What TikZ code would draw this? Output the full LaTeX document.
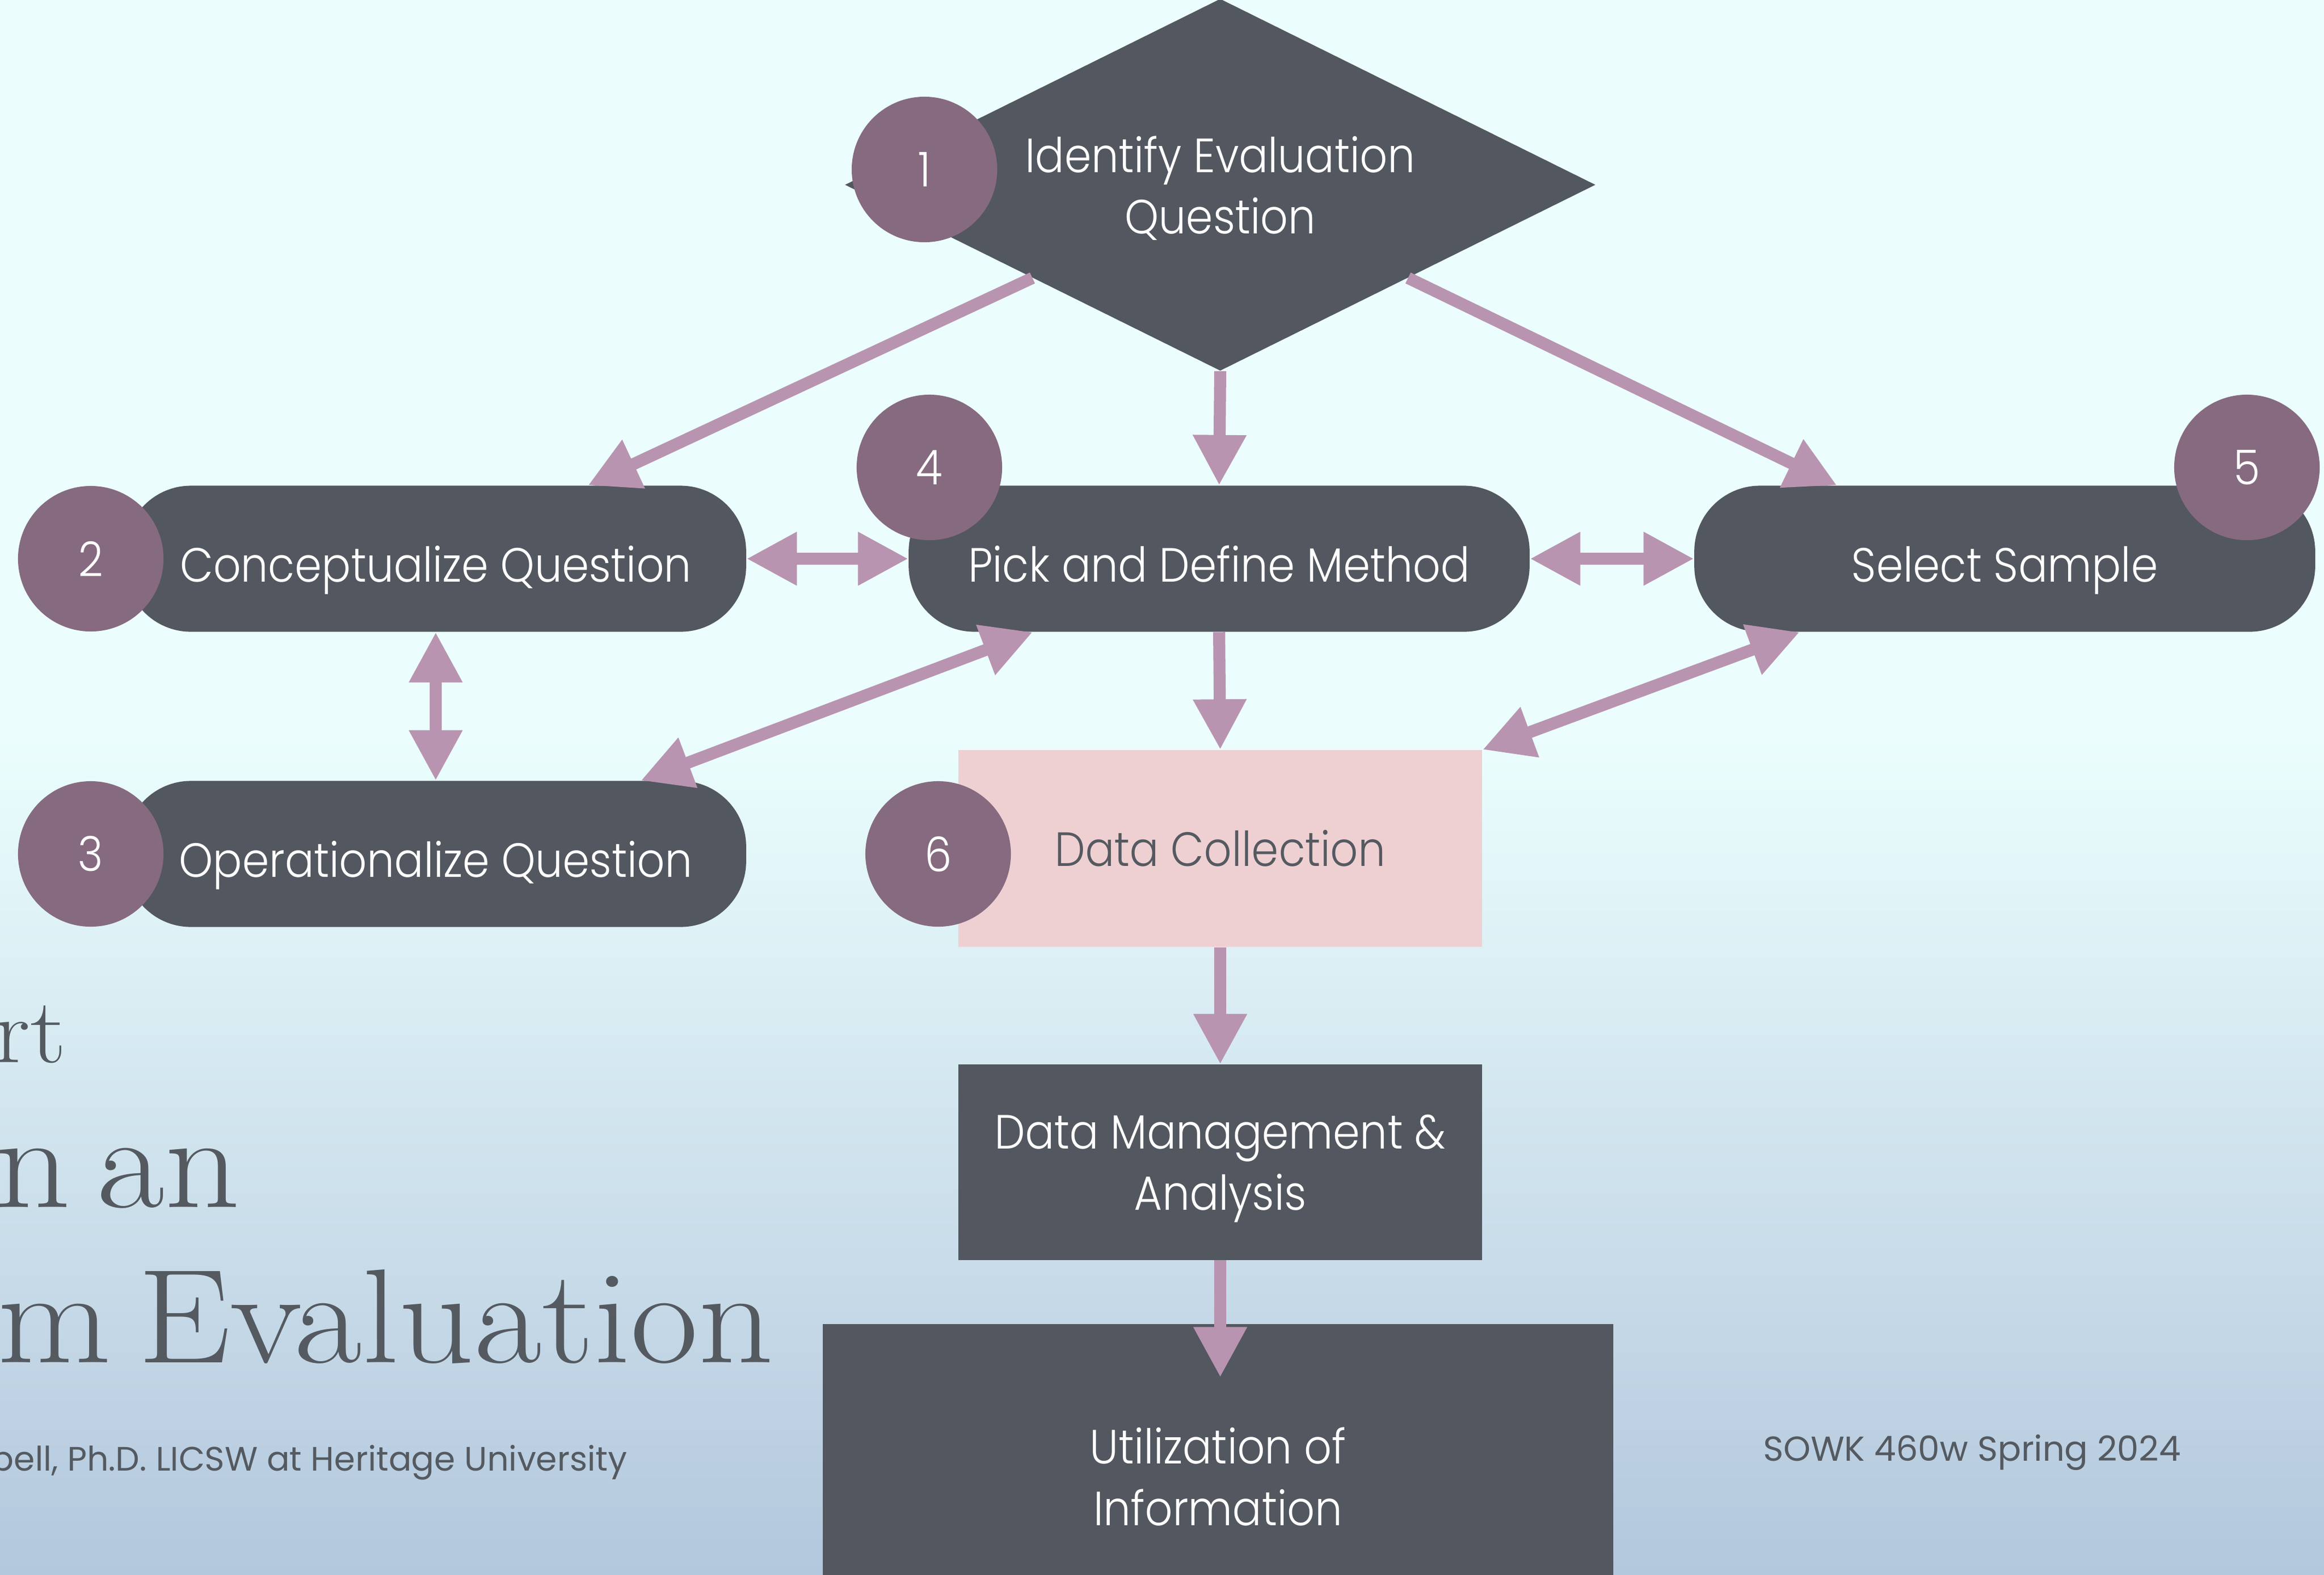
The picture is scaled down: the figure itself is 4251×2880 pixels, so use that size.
\documentclass[tikz,border=0pt]{standalone}
\usepackage{fontspec}
\newfontfamily\lightfont{Poppins Light}[FakeStretch=0.9]
\newfontfamily\plainfont{Poppins}
\newfontfamily\titlefont{Latin Modern Roman}[FakeStretch=1.1, WordSpace=0.6]
\usetikzlibrary{shapes.geometric, arrows.meta, calc}

\definecolor{bgtop}{HTML}{EBFEFD}
\definecolor{bgmid}{HTML}{D2E6F1}
\definecolor{bglow}{HTML}{B3C7DD}
\definecolor{slate}{HTML}{53575F}
\definecolor{plum}{HTML}{866A80}
\definecolor{mauve}{HTML}{B994B1}
\definecolor{blush}{HTML}{EFD0D2}
\definecolor{ink}{HTML}{545A60}

\tikzset{
    boxtext/.style={font=\lightfont\fontsize{25}{31.9}\selectfont},
    pill/.style={rectangle, rounded corners=1.2cm, fill=slate, text=white, minimum width=11.35cm, minimum height=2.67cm, text height=0.9cm, text depth=0.06cm, boxtext},
    block/.style={rectangle, fill=slate, text=white, minimum width=9.58cm, align=center, boxtext},
    badge/.style={circle, fill=plum, text=white, minimum size=2.66cm, inner sep=0pt, boxtext},
    link/.style={mauve, line width=0.22cm, -{Triangle[width=0.92cm, length=0.92cm]}},
    twolink/.style={link, {Triangle[width=0.92cm, length=0.92cm]}-{Triangle[width=0.92cm, length=0.92cm]}},
    title/.style={anchor=base east, inner sep=0pt, text=ink, font=\titlefont\fontsize{69.7}{72}\selectfont}
}

\begin{document}
\begin{tikzpicture}[x=0.01cm, y=-0.01cm]

            % the frame
            \useasboundingbox (0,0) rectangle (4251,2880);
            \path[clip] (0,0) rectangle (4251,2880);
            \fill[bgtop] (0,0) rectangle (4251,2880);
            \shade[top color=bgtop, middle color=bgmid, bottom color=bglow] (0,1350) rectangle (4251,2880);

            % the body
            \node[diamond, aspect=2, inner sep=0pt, fill=slate, text=white, align=center, minimum width=13.72cm, minimum height=6.8cm, text depth=0cm, boxtext] (q1) at (2232,338) {Identify Evaluation\\Question};
            \node[pill] (b2) at (797,1022) {Conceptualize Question};
            \node[pill] (b3) at (797,1562) {Operationalize Question};
            \node[pill] (b4) at (2230,1022) {Pick and Define Method};
            \node[pill] (b5) at (3667,1022) {Select Sample};
            \node[block, fill=blush, text=ink, minimum height=3.6cm] (b6) at (2232,1552) {Data Collection};
            \node[block, minimum height=3.57cm, text depth=0cm] (b7) at (2232,2126) {Data Management \&\\Analysis};
            \node[block, minimum width=14.45cm, minimum height=5.58cm] (b8) at (2228,2701) {Utilization of\\Information};

            % numbers
            \foreach \i/\x/\y in {1/1691/310, 2/166/1022, 3/166/1562, 4/1700/855, 5/4110/855, 6/1716/1562} {
                \node[badge] (c\i) at (\x,\y) {\i};
            };

            % ends on the edges
            \coordinate (e2) at ($(b2.north west)!0.745!(b2.north east)$);
            \coordinate (e5) at ($(b5.north west)!0.23!(b5.north east)$);
            \coordinate (f4) at ($(b4.south west)!0.2!(b4.south east)$);
            \coordinate (f3) at ($(b3.north west)!0.83!(b3.north east)$);
            \coordinate (f5) at ($(b5.south west)!0.17!(b5.south east)$);
            \coordinate (u8) at ([yshift=-2.14cm]b7.south);

            % arrows
            \draw[link] (q1.south west) -- (e2);
            \draw[link] (q1.south east) -- (e5);
            \draw[twolink] (b2.east) -- (b4.west);
            \draw[twolink] (b4.east) -- (b5.west);
            \draw[twolink] (b2.south) -- (b3.north);
            \draw[twolink] (f4) -- (f3);
            \draw[twolink] (f5) -- (b6.north east);
            \foreach \a/\b in {q1.south/b4.north, b4.south/b6.north, b6.south/b7.north, b7.south/u8} {
                \draw[link] (\a) -- (\b);
            };

            % title
            \node[title, font=\titlefont\fontsize{48}{50}\selectfont] (t1) at (122,1943) {art};
            \node[title] (t2) at (440,2208) {n an};
            \node[title] (t3) at (1416,2492) {m Evaluation};
            \node[anchor=base east, inner sep=0pt, text=ink, font=\plainfont\fontsize{17.6}{20}\selectfont] (t4) at (1148,2690) {bell, Ph.D. LICSW at Heritage University};
            \node[anchor=base, inner sep=0pt, text=ink, font=\plainfont\fontsize{18}{20}\selectfont] (t5) at (3607,2672) {SOWK 460w Spring 2024};
        \end{tikzpicture}
\end{document}
